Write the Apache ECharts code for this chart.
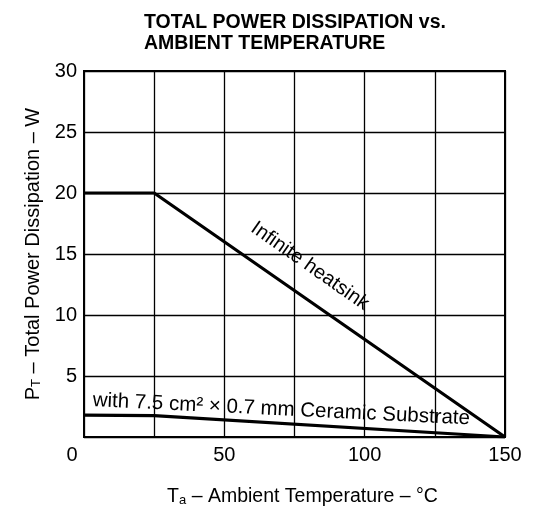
<!DOCTYPE html>
<html>
<head>
<meta charset="utf-8">
<script src="https://cdn.jsdelivr.net/npm/echarts@6/dist/echarts.min.js"></script>
<style>
html,body{margin:0;padding:0;background:#fff;}
#c{width:537px;height:509px;}
</style>
</head>
<body>
<div id="c"></div>
<script>
var temperature = [0, 25, 150];
var infiniteHeatsink = [20, 20, 0];
var ceramicSubstrate = [1.8, 1.75, 0];
var xTicks = [0, 50, 100, 150];
var yTicks = [0, 5, 10, 15, 20, 25, 30];

var FONT = '"Liberation Sans", Arial, Helvetica, sans-serif';

function pairs(xs, ys) {
  return xs.map(function (x, i) { return [x, ys[i]]; });
}

var chart = echarts.init(document.getElementById('c'), null, {renderer: 'canvas'});
chart.setOption({
  backgroundColor: '#fff',
  animation: false,
  title: {
    text: 'TOTAL POWER DISSIPATION vs.\nAMBIENT TEMPERATURE',
    left: 139,
    top: 7,
    textStyle: {
      fontFamily: FONT,
      fontSize: 19.5,
      fontWeight: 'bold',
      color: '#000',
      lineHeight: 21
    }
  },
  grid: {
    left: 84,
    right: 32,
    top: 71,
    bottom: 72,
    containLabel: false,
    outerBoundsMode: 'none',
    show: true,
    borderColor: '#000',
    borderWidth: 2,
    backgroundColor: 'transparent'
  },
  xAxis: {
    type: 'value',
    min: 0,
    max: 150,
    interval: 25,
    axisLine: {show: false},
    axisTick: {show: false},
    splitLine: {show: true, lineStyle: {color: '#000', width: 1.3}},
    axisLabel: {
      margin: 8,
      color: '#000',
      fontFamily: FONT,
      fontSize: 20,
      formatter: function (v) {
        if (xTicks.indexOf(v) < 0) return '';
        if (v === 0) return '{z|0}';
        return String(v);
      },
      rich: {
        z: {fontFamily: FONT, fontSize: 20, color: '#000', padding: [0, 24, 0, 0]}
      }
    },
    name: '{m|T}{s|a}{m| – Ambient Temperature – °C}',
    nameLocation: 'middle',
    nameGap: 50,
    nameTextStyle: {
      padding: [0, 0, 0, 16],
      rich: {
        m: {fontFamily: FONT, fontSize: 19.5, color: '#000'},
        s: {fontFamily: FONT, fontSize: 13, color: '#000', verticalAlign: 'bottom', padding: [7, 0, 0, 0]}
      }
    }
  },
  yAxis: {
    type: 'value',
    min: 0,
    max: 30,
    interval: 5,
    axisLine: {show: false},
    axisTick: {show: false},
    splitLine: {show: true, lineStyle: {color: '#000', width: 1.3}},
    axisLabel: {
      showMinLabel: false,
      margin: 7,
      color: '#000',
      fontFamily: FONT,
      fontSize: 20,
      formatter: function (v) { return yTicks.indexOf(v) >= 0 ? String(v) : ''; }
    },
    name: '{m|P}{s|T}{m| – Total Power Dissipation – W}',
    nameLocation: 'middle',
    nameGap: 41,
    nameRotate: 90,
    nameTextStyle: {
      rich: {
        m: {fontFamily: FONT, fontSize: 20, color: '#000'},
        s: {fontFamily: FONT, fontSize: 13, color: '#000', padding: [7, 0, 0, 0]}
      }
    }
  },
  series: [
    {
      name: 'Infinite heatsink',
      type: 'line',
      data: pairs(temperature, infiniteHeatsink),
      symbol: 'none',
      lineStyle: {color: '#000', width: 3.2},
      z: 5,
      markPoint: {
        symbol: 'circle',
        symbolSize: 0,
        data: [{coord: [80.5, 14.0]}],
        label: {
          show: true,
          position: 'inside',
          formatter: 'Infinite heatsink',
          rotate: -35,
          color: '#000',
          fontFamily: FONT,
          fontSize: 20
        }
      }
    },
    {
      name: 'Ceramic substrate',
      type: 'line',
      data: pairs(temperature, ceramicSubstrate),
      symbol: 'none',
      lineStyle: {color: '#000', width: 3.2},
      z: 5,
      markPoint: {
        symbol: 'circle',
        symbolSize: 0,
        data: [{coord: [70.3, 2.25]}],
        label: {
          show: true,
          position: 'inside',
          formatter: 'with 7.5 cm² × 0.7 mm Ceramic Substrate',
          rotate: -2.8,
          color: '#000',
          fontFamily: FONT,
          fontSize: 20.5
        }
      }
    }
  ]
});
</script>
</body>
</html>
